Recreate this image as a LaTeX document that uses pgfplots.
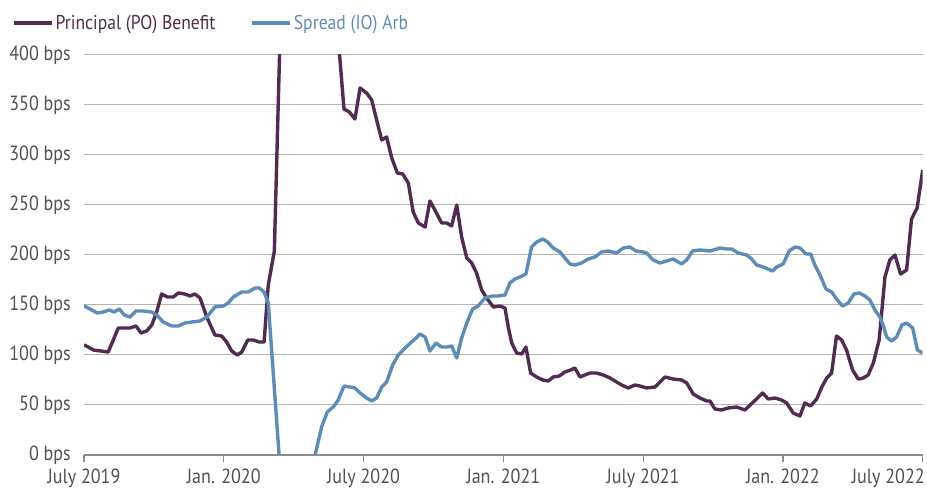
\documentclass[border=0pt]{standalone}
\usepackage{fontspec}
\setmainfont{PT Sans}[FakeStretch=0.88]
\usepackage{pgfplots}
\pgfplotsset{compat=1.18}
\definecolor{po}{HTML}{522A52}
\definecolor{io}{HTML}{5B8CBA}
\definecolor{ticktext}{HTML}{505050}
\definecolor{gridc}{HTML}{B4B4B4}
\definecolor{axisc}{HTML}{8C8C8C}

\pgfplotstableread{
m v
0.00 110
0.18 108
0.40 105
1.04 103
1.47 127
1.97 127
2.23 129
2.45 122
2.69 124
2.91 130
3.12 143
3.33 161
3.58 158
3.83 158
4.05 162
4.33 161
4.55 159
4.76 161
4.98 157
5.27 138
5.62 120
5.91 119
6.12 113
6.34 104
6.58 100
6.77 103
7.03 115
7.27 115
7.51 113
7.73 113
7.91 170
8.17 204
8.45 450
9.27 700
10.13 650
10.90 420
11.16 346
11.39 343
11.63 336
11.85 367
12.13 362
12.35 355
12.56 335
12.78 315
12.99 318
13.21 297
13.45 282
13.68 281
13.92 272
14.13 243
14.35 232
14.64 228
14.85 254
15.06 245
15.35 232
15.57 232
15.78 229
16.00 250
16.21 218
16.43 197
16.64 192
16.85 182
17.07 165
17.28 157
17.57 148
17.85 149
18.07 147
18.21 128
18.36 112
18.57 102
18.79 101
18.97 108
19.17 82
19.43 78
19.69 75
19.93 74
20.14 78
20.40 79
20.64 83
20.89 85
21.07 87
21.29 78
21.50 80
21.72 82
22.00 82
22.29 80
22.58 77
22.86 73
23.08 70
23.36 67
23.65 70
23.86 69
24.15 67
24.51 68
24.94 78
25.29 76
25.65 75
25.87 72
26.15 61
26.44 57
26.73 54
26.87 54
27.08 46
27.37 45
27.65 47
28.01 48
28.37 45
28.73 53
29.13 62
29.37 56
29.66 57
29.94 55
30.16 52
30.44 42
30.73 39
30.94 52
31.19 49
31.45 56
31.67 68
31.88 77
32.09 82
32.30 119
32.52 115
32.73 105
32.99 85
33.23 76
33.45 77
33.66 80
33.88 92
34.13 115
34.38 178
34.59 195
34.81 200
35.05 181
35.31 185
35.52 236
35.76 247
36.00 285
}\potable

\pgfplotstableread{
m v
0.00 149
0.18 147
0.57 142
0.83 143
1.09 145
1.29 143
1.52 146
1.73 140
1.97 138
2.23 144
2.55 144
2.91 143
3.12 140
3.40 133
3.76 129
4.05 129
4.33 132
4.62 133
4.98 134
5.27 138
5.62 148
5.98 149
6.19 152
6.41 158
6.77 163
7.05 163
7.34 167
7.52 167
7.73 163
7.91 152
8.45 -25
9.06 -150
9.79 -13
10.20 28
10.44 43
10.70 48
10.91 55
11.16 69
11.42 68
11.63 67
11.85 62
12.13 57
12.35 54
12.56 57
12.78 68
12.99 73
13.25 90
13.49 100
13.78 107
14.06 113
14.21 116
14.42 121
14.64 118
14.85 104
15.11 112
15.35 108
15.57 108
15.78 109
16.00 97
16.21 117
16.43 132
16.68 146
16.92 149
17.21 157
17.50 159
17.78 159
18.07 160
18.28 172
18.50 176
18.71 178
18.97 181
19.21 208
19.43 213
19.69 216
19.90 213
20.14 207
20.43 203
20.64 197
20.86 191
21.07 190
21.36 192
21.64 196
21.93 198
22.22 203
22.50 204
22.86 202
23.15 207
23.43 208
23.69 204
24.00 203
24.15 202
24.43 195
24.72 192
25.01 194
25.29 196
25.65 191
25.87 195
26.12 204
26.44 205
26.87 204
27.30 207
27.58 206
27.80 206
28.08 202
28.44 200
28.66 196
28.87 190
29.15 188
29.56 184
29.73 188
30.01 191
30.27 204
30.52 208
30.73 207
30.99 201
31.19 201
31.37 190
31.59 180
31.85 166
32.09 163
32.30 156
32.56 149
32.80 152
33.05 161
33.28 162
33.52 159
33.73 155
33.95 145
34.16 138
34.33 128
34.45 118
34.66 114
34.88 118
35.11 130
35.31 132
35.57 127
35.77 105
36.00 102
}\iotable

\begin{document}
\begin{tikzpicture}
\useasboundingbox (-84bp,-36bp) rectangle (843bp,455bp);
\begin{axis}[
  scale only axis,
  width=838.7bp, height=400bp,
  xmin=0, xmax=36, ymin=0, ymax=400,
  axis x line*=bottom, axis y line*=left,
  y axis line style={draw=none},
  x axis line style={draw=axisc, line width=1.2bp},
  xtick={0,6,12,18,24,30,36},
  xticklabels={July 2019, Jan. 2020, July 2020, Jan. 2021, July 2021, Jan. 2022, \makebox[0pt][r]{July 2022\hspace{-2bp}}},
  ytick={0,50,100,150,200,250,300,350,400},
  yticklabels={0 bps, 50 bps, 100 bps, 150 bps, 200 bps, 250 bps, 300 bps, 350 bps, 400 bps},
  ymajorgrids,
  grid style={draw=gridc, line width=1bp},
  ytick style={draw=none},
  xtick style={draw=axisc, line width=1.2bp},
  tick align=outside,
  major tick length=7bp,
  tick label style={font=\fontsize{20.5bp}{22bp}\selectfont, text=ticktext},
  yticklabel style={inner sep=0pt, xshift=-6bp},
  xticklabel style={inner sep=0pt, yshift=-7bp},
  legend columns=2,
  legend style={draw=none, fill=none, inner sep=0pt, outer sep=0pt,
    at={(axis description cs:-0.0858,1.08)}, anchor=west,
    font=\fontsize{20bp}{22bp}\selectfont,
    /tikz/every even column/.append style={column sep=33bp}},
  legend image code/.code={\draw[#1, line width=3.6bp] (0bp,0bp) -- (38bp,0bp);},
  every axis plot/.append style={line width=3.4bp, line join=round, mark=none},
]
\addplot[po] table[x=m, y=v] {\potable};
\addlegendentry{\textcolor{po}{Principal (PO) Benefit}}
\addplot[io] table[x=m, y=v] {\iotable};
\addlegendentry{\textcolor{io}{Spread (IO) Arb}}
\end{axis}
\end{tikzpicture}
\end{document}
